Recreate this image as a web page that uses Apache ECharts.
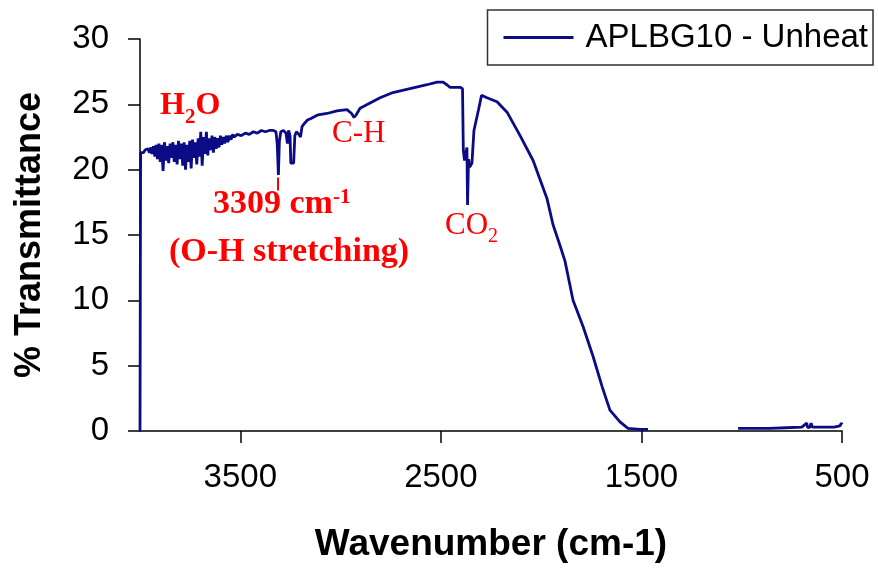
<!DOCTYPE html>
<html>
<head>
<meta charset="utf-8">
<script src="https://cdn.jsdelivr.net/npm/echarts@6/dist/echarts.min.js"></script>
<style>
html,body{margin:0;padding:0;background:#fff;}
#chart{width:878px;height:575px;}
</style>
</head>
<body>
<div id="chart"></div>
<script>
const seriesName = 'APLBG10 - Unheat';
const xTickValues = [3500, 2500, 1500, 500];
const wavenumber = [
 4000,3997,3990,3982,3975,3968,3960,3953,3946,3940,3933,3926,3920,3913,3906,3899,3892,3885,3878,3871,
 3864,3857,3850,3843,3836,3829,3822,3815,3808,3801,3794,3787,3780,3773,3766,3759,3752,3745,3738,3731,
 3724,3717,3710,3703,3697,3690,3683,3676,3669,3662,3655,3648,3641,3634,3627,3620,3613,3606,3599,3592,
 3585,3578,3570,3562,3554,3546,3538,3530,3515,3495,3475,3455,3435,3415,3395,3375,3355,3335,3322,3316,
 3310,3305,3298,3285,3272,3265,3259,3252,3248,3240,3234,3228,3220,3208,3200,3192,3182,3165,3150,3112,
 3068,3018,2968,2945,2933,2922,2903,2853,2803,2739,2654,2569,2519,2489,2470,2454,2404,2392,2388,2382,
 2375,2370,2367,2362,2356,2345,2335,2312,2297,2270,2220,2170,2105,2040,1971,1941,1906,1881,1841,1791,
 1741,1696,1657,1607,1567,1507,1467,1440,
 1018,950,860,780,700,676,671,665,660,654,648,600,540,510,503,500
];
const transmittance = [
 0,21.3,21.4,21.3,21.5,21.4,21.6,21.3,21.7,21.2,21.8,21.0,21.9,20.8,22.0,20.6,21.9,19.9,22.1,20.7,
 21.8,20.5,22.0,20.9,22.1,20.6,21.9,20.4,22.2,20.8,22.0,20.3,22.1,20.0,21.9,20.6,22.2,20.1,22.3,20.9,
 22.1,20.4,22.4,21.0,22.9,20.3,22.5,21.2,22.9,21.1,22.4,21.5,22.6,21.3,22.5,21.6,22.4,21.7,22.6,21.9,
 22.5,22.0,22.6,22.1,22.6,22.3,22.7,22.5,22.7,22.6,22.8,22.7,22.9,22.8,23.0,22.9,23.0,23.0,22.9,22.0,
 19.6,22.2,22.9,23.0,22.8,22.0,23.0,22.6,20.5,20.6,20.5,22.6,22.9,22.7,22.5,23.3,23.5,23.8,23.9,24.2,
 24.3,24.5,24.6,24.3,24.0,24.2,24.7,25.1,25.5,25.9,26.2,26.5,26.7,26.7,26.5,26.3,26.3,26.2,21.5,20.7,
 20.8,21.7,17.3,20.8,20.2,20.5,23.0,24.6,25.7,25.5,25.2,24.4,22.6,20.7,17.8,15.8,14.2,13.0,10.0,8.0,
 5.7,3.4,1.6,0.7,0.2,0.12,0.12,null,
 0.2,0.2,0.2,0.25,0.3,0.6,0.25,0.3,0.3,0.6,0.3,0.3,0.3,0.4,0.6,0.5
];
const oh = [3311, 19.4, 18.4];

const chart = echarts.init(document.getElementById('chart'), null, {renderer:'canvas'});
const sans = 'Liberation Sans, Arial, sans-serif';
const serif = 'Liberation Serif, Times New Roman, serif';
const red = '#ff0000';
const navy = '#0b0b86';

const option = {
  backgroundColor: '#ffffff',
  animation: false,
  grid: {left: 140, right: 36, top: 39, bottom: 144},
  legend: {
    right: 5, top: 10,
    data: [{name: seriesName, icon: 'rect'}],
    itemWidth: 70, itemHeight: 3,
    borderColor: '#333', borderWidth: 1.5, borderRadius: 0,
    padding: [11, 5, 11, 16],
    textStyle: {fontFamily: sans, fontSize: 33, color: '#000', padding: [0, 0, 0, 7]}
  },
  xAxis: {
    type: 'value', min: 500, max: 4000, inverse: true,
    axisLine: {show: true, lineStyle: {color: '#000', width: 1.5}},
    axisTick: {show: true, inside: false, length: 12, customValues: xTickValues, lineStyle: {color: '#000', width: 1.5}},
    axisLabel: {customValues: xTickValues, formatter: v => String(v), fontFamily: sans, fontSize: 33, color: '#000', margin: 30},
    splitLine: {show: false},
    name: 'Wavenumber (cm-1)', nameLocation: 'middle', nameGap: 95,
    nameTextStyle: {fontFamily: sans, fontSize: 37, fontWeight: 'bold', color: '#000'}
  },
  yAxis: {
    type: 'value', min: 0, max: 30, interval: 5,
    axisLine: {show: true, lineStyle: {color: '#000', width: 1.5}},
    axisTick: {show: true, inside: false, length: 12, lineStyle: {color: '#000', width: 1.5}},
    axisLabel: {fontFamily: sans, fontSize: 33, color: '#000', margin: 31},
    splitLine: {show: false},
    name: '% Transmittance', nameLocation: 'middle', nameGap: 92, nameRotate: 90,
    nameTextStyle: {fontFamily: sans, fontSize: 36, fontWeight: 'bold', color: '#000'}
  },
  series: [{
    name: seriesName, type: 'line', showSymbol: false, symbol: 'none',
    data: wavenumber.map((w, i) => [w, transmittance[i]]),
    connectNulls: false, clip: true,
    lineStyle: {color: navy, width: 2.8},
    itemStyle: {color: navy},
    markLine: {
      silent: true, symbol: 'none', animation: false,
      label: {show: false},
      lineStyle: {color: red, width: 2, type: 'solid'},
      data: [[{coord: [oh[0], oh[1]]}, {coord: [oh[0], oh[2]]}]]
    }
  }],
  graphic: [
    {type: 'text', left: 160, top: 90, style: {
      text: 'H{s|2}O', fill: red, fontFamily: serif, fontSize: 32, fontWeight: 'bold',
      rich: {s: {fontSize: 21, fontFamily: serif, fontWeight: 'bold', fill: red, verticalAlign: 'bottom', padding: [0, 0, -6, 0]}}
    }},
    {type: 'text', left: 213, top: 187, style: {
      text: '3309 cm{p|-1}', fill: red, fontFamily: serif, fontSize: 34, fontWeight: 'bold',
      rich: {p: {fontSize: 21, fontFamily: serif, fontWeight: 'bold', fill: red, verticalAlign: 'top', padding: [0, 0, 8, 0]}}
    }},
    {type: 'text', left: 169, top: 235, style: {
      text: '(O-H stretching)', fill: red, fontFamily: serif, fontSize: 34, fontWeight: 'bold'
    }},
    {type: 'text', left: 332, top: 118, style: {
      text: 'C-H', fill: red, fontFamily: serif, fontSize: 31
    }},
    {type: 'text', left: 445, top: 210, style: {
      text: 'CO{s|2}', fill: red, fontFamily: serif, fontSize: 31,
      rich: {s: {fontSize: 20, fontFamily: serif, fill: red, verticalAlign: 'bottom', padding: [0, 0, -6, 0]}}
    }}
  ]
};
chart.setOption(option);
</script>
</body>
</html>
